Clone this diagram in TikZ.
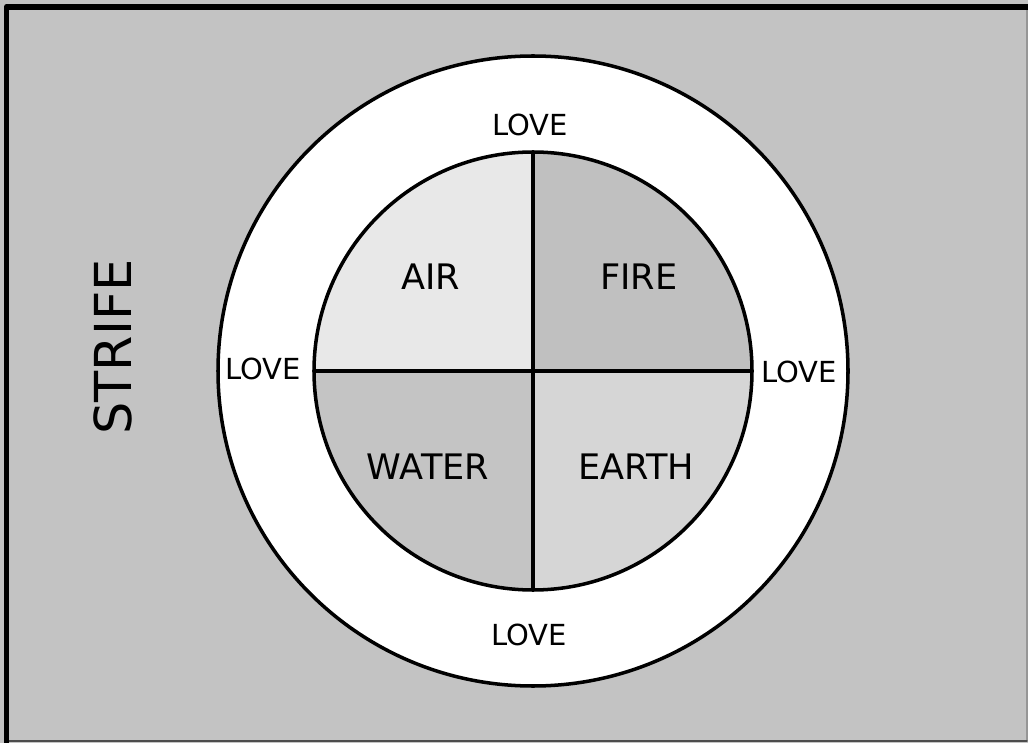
\documentclass[tikz,border=0pt]{standalone}
\usepackage{fontspec}
\setmainfont{DejaVu Sans}

\definecolor{strifegray}{RGB}{195,195,195}
\definecolor{edgegray}{RGB}{150,150,150}
\definecolor{airgray}{RGB}{232,232,232}
\definecolor{firegray}{RGB}{192,192,192}
\definecolor{watergray}{RGB}{196,196,196}
\definecolor{earthgray}{RGB}{214,214,214}

\tikzset{
  lovelabel/.style={font=\fontsize{16.5}{19}\selectfont},
  elemlabel/.style={font=\fontsize{20}{24}\selectfont},
  ringline/.style={line width=2pt}
}

\begin{document}
\begin{tikzpicture}[x=0.02cm, y=-0.02cm, line cap=round, line join=round]

\useasboundingbox (0,0) rectangle (1028,743);
\fill[strifegray] (0,0) rectangle (1028,743);
\draw[edgegray, line width=0.7pt] (1027,7) -- (1027,741);
\draw[black!70, line width=0.8pt] (1027,741) -- (6.5,741);
\draw[line width=3.4pt, line cap=butt] (6.5,743) -- (6.5,7) -- (1028,7);

\node[font=\fontsize{29}{34}\selectfont, rotate=90] (strife) at (113,347) {STRIFE};

\begin{scope}[shift={(533,371)}]
  \fill[white] (0,0) circle (315);
  \draw[ringline] (0,0) circle (315);
  % the four quarters
  \fill[airgray]   (0,0) -- (180:219) arc[start angle=180, end angle=270, radius=219] -- cycle;
  \fill[firegray]  (0,0) -- (270:219) arc[start angle=270, end angle=360, radius=219] -- cycle;
  \fill[earthgray] (0,0) -- (0:219)   arc[start angle=0,   end angle=90,  radius=219] -- cycle;
  \fill[watergray] (0,0) -- (90:219)  arc[start angle=90,  end angle=180, radius=219] -- cycle;
  \draw[ringline] (0,0) circle (219);
  \coordinate (top) at (0,-219);
  \coordinate (bot) at (0,219);
  \coordinate (lft) at (-219,0);
  \coordinate (rgt) at (219,0);
  \draw[ringline] (top) -- (bot);
  \draw[ringline] (lft) -- (rgt);

  \node[lovelabel] (lovetop) at (-3,-246) {LOVE};
  \node[lovelabel] (loveleft) at (-270,-2) {LOVE};
  \node[lovelabel] (loveright) at (266,1) {LOVE};
  \node[lovelabel] (lovebot) at (-4,264) {LOVE};

  \node[elemlabel] (air) at (-102,-94) {AIR};
  \node[elemlabel] (fire) at (106,-94) {FIRE};
  \node[elemlabel] (water) at (-105,96) {WATER};
  \node[elemlabel] (earth) at (103,96) {EARTH};
\end{scope}

\end{tikzpicture}
\end{document}
